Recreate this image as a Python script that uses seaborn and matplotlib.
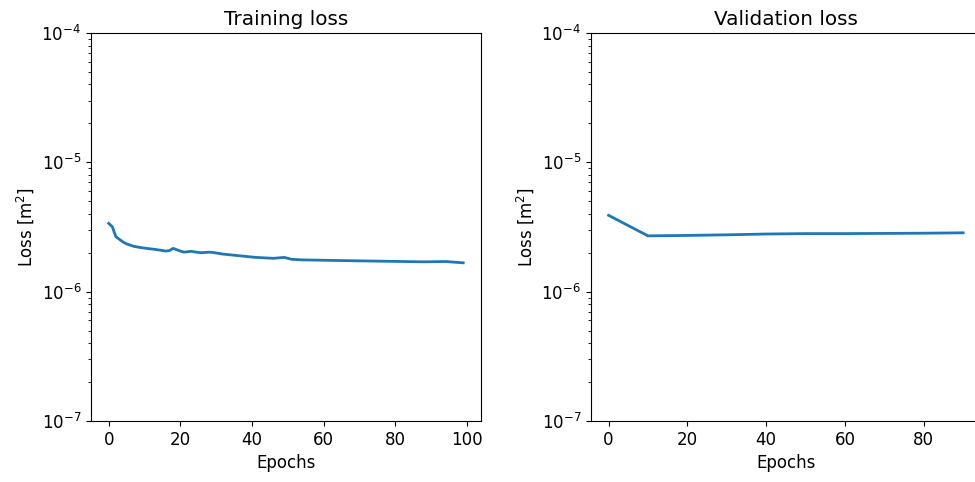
import matplotlib
matplotlib.use("Agg")
import pandas as pd
import seaborn as sns
import matplotlib.pyplot as plt

# values
train_epochs = [0, 1, 2, 4, 5, 7, 9, 10, 13, 16, 17, 18, 20, 21, 23, 25, 26, 28, 29,
                32, 36, 41, 46, 49, 51, 54, 70, 88, 94, 99]
train_loss = [3.37e-6, 3.18e-6, 2.66e-6, 2.42e-6, 2.34e-6, 2.24e-6, 2.19e-6, 2.17e-6,
              2.12e-6, 2.06e-6, 2.08e-6, 2.16e-6, 2.06e-6, 2.02e-6, 2.05e-6, 2.01e-6,
              2.00e-6, 2.02e-6, 2.01e-6, 1.95e-6, 1.90e-6, 1.84e-6, 1.81e-6, 1.84e-6,
              1.78e-6, 1.76e-6, 1.73e-6, 1.70e-6, 1.71e-6, 1.67e-6]

val_epochs = [0, 10, 20, 30, 40, 50, 60, 70, 80, 90]
val_loss = [3.89e-6, 2.70e-6, 2.72e-6, 2.75e-6, 2.79e-6, 2.81e-6, 2.81e-6, 2.82e-6,
            2.83e-6, 2.85e-6]

train_df = pd.DataFrame({"epoch": train_epochs, "loss": train_loss})
val_df = pd.DataFrame({"epoch": val_epochs, "loss": val_loss})

plt.rcParams["font.size"] = 12

fig = plt.figure(figsize=(9.75, 4.82), dpi=100)
ax1 = fig.add_axes([0.0933, 0.1266, 0.4, 0.805])
ax2 = fig.add_axes([0.606, 0.1266, 0.4, 0.805])

for ax, df, title in [(ax1, train_df, "Training loss"), (ax2, val_df, "Validation loss")]:
    sns.lineplot(data=df, x="epoch", y="loss", ax=ax, color="#1f77b4", linewidth=2)
    ax.set_yscale("log")
    ax.set_ylim(1e-7, 1e-4)
    ax.set_title(title, fontsize=14.4)
    ax.set_xlabel("Epochs")
    ax.set_ylabel("Loss [m$^2$]")

# the reference is cut at the right edge, the right frame line is not visible
ax2.spines["right"].set_visible(False)

fig.savefig("out.png", dpi=100)
